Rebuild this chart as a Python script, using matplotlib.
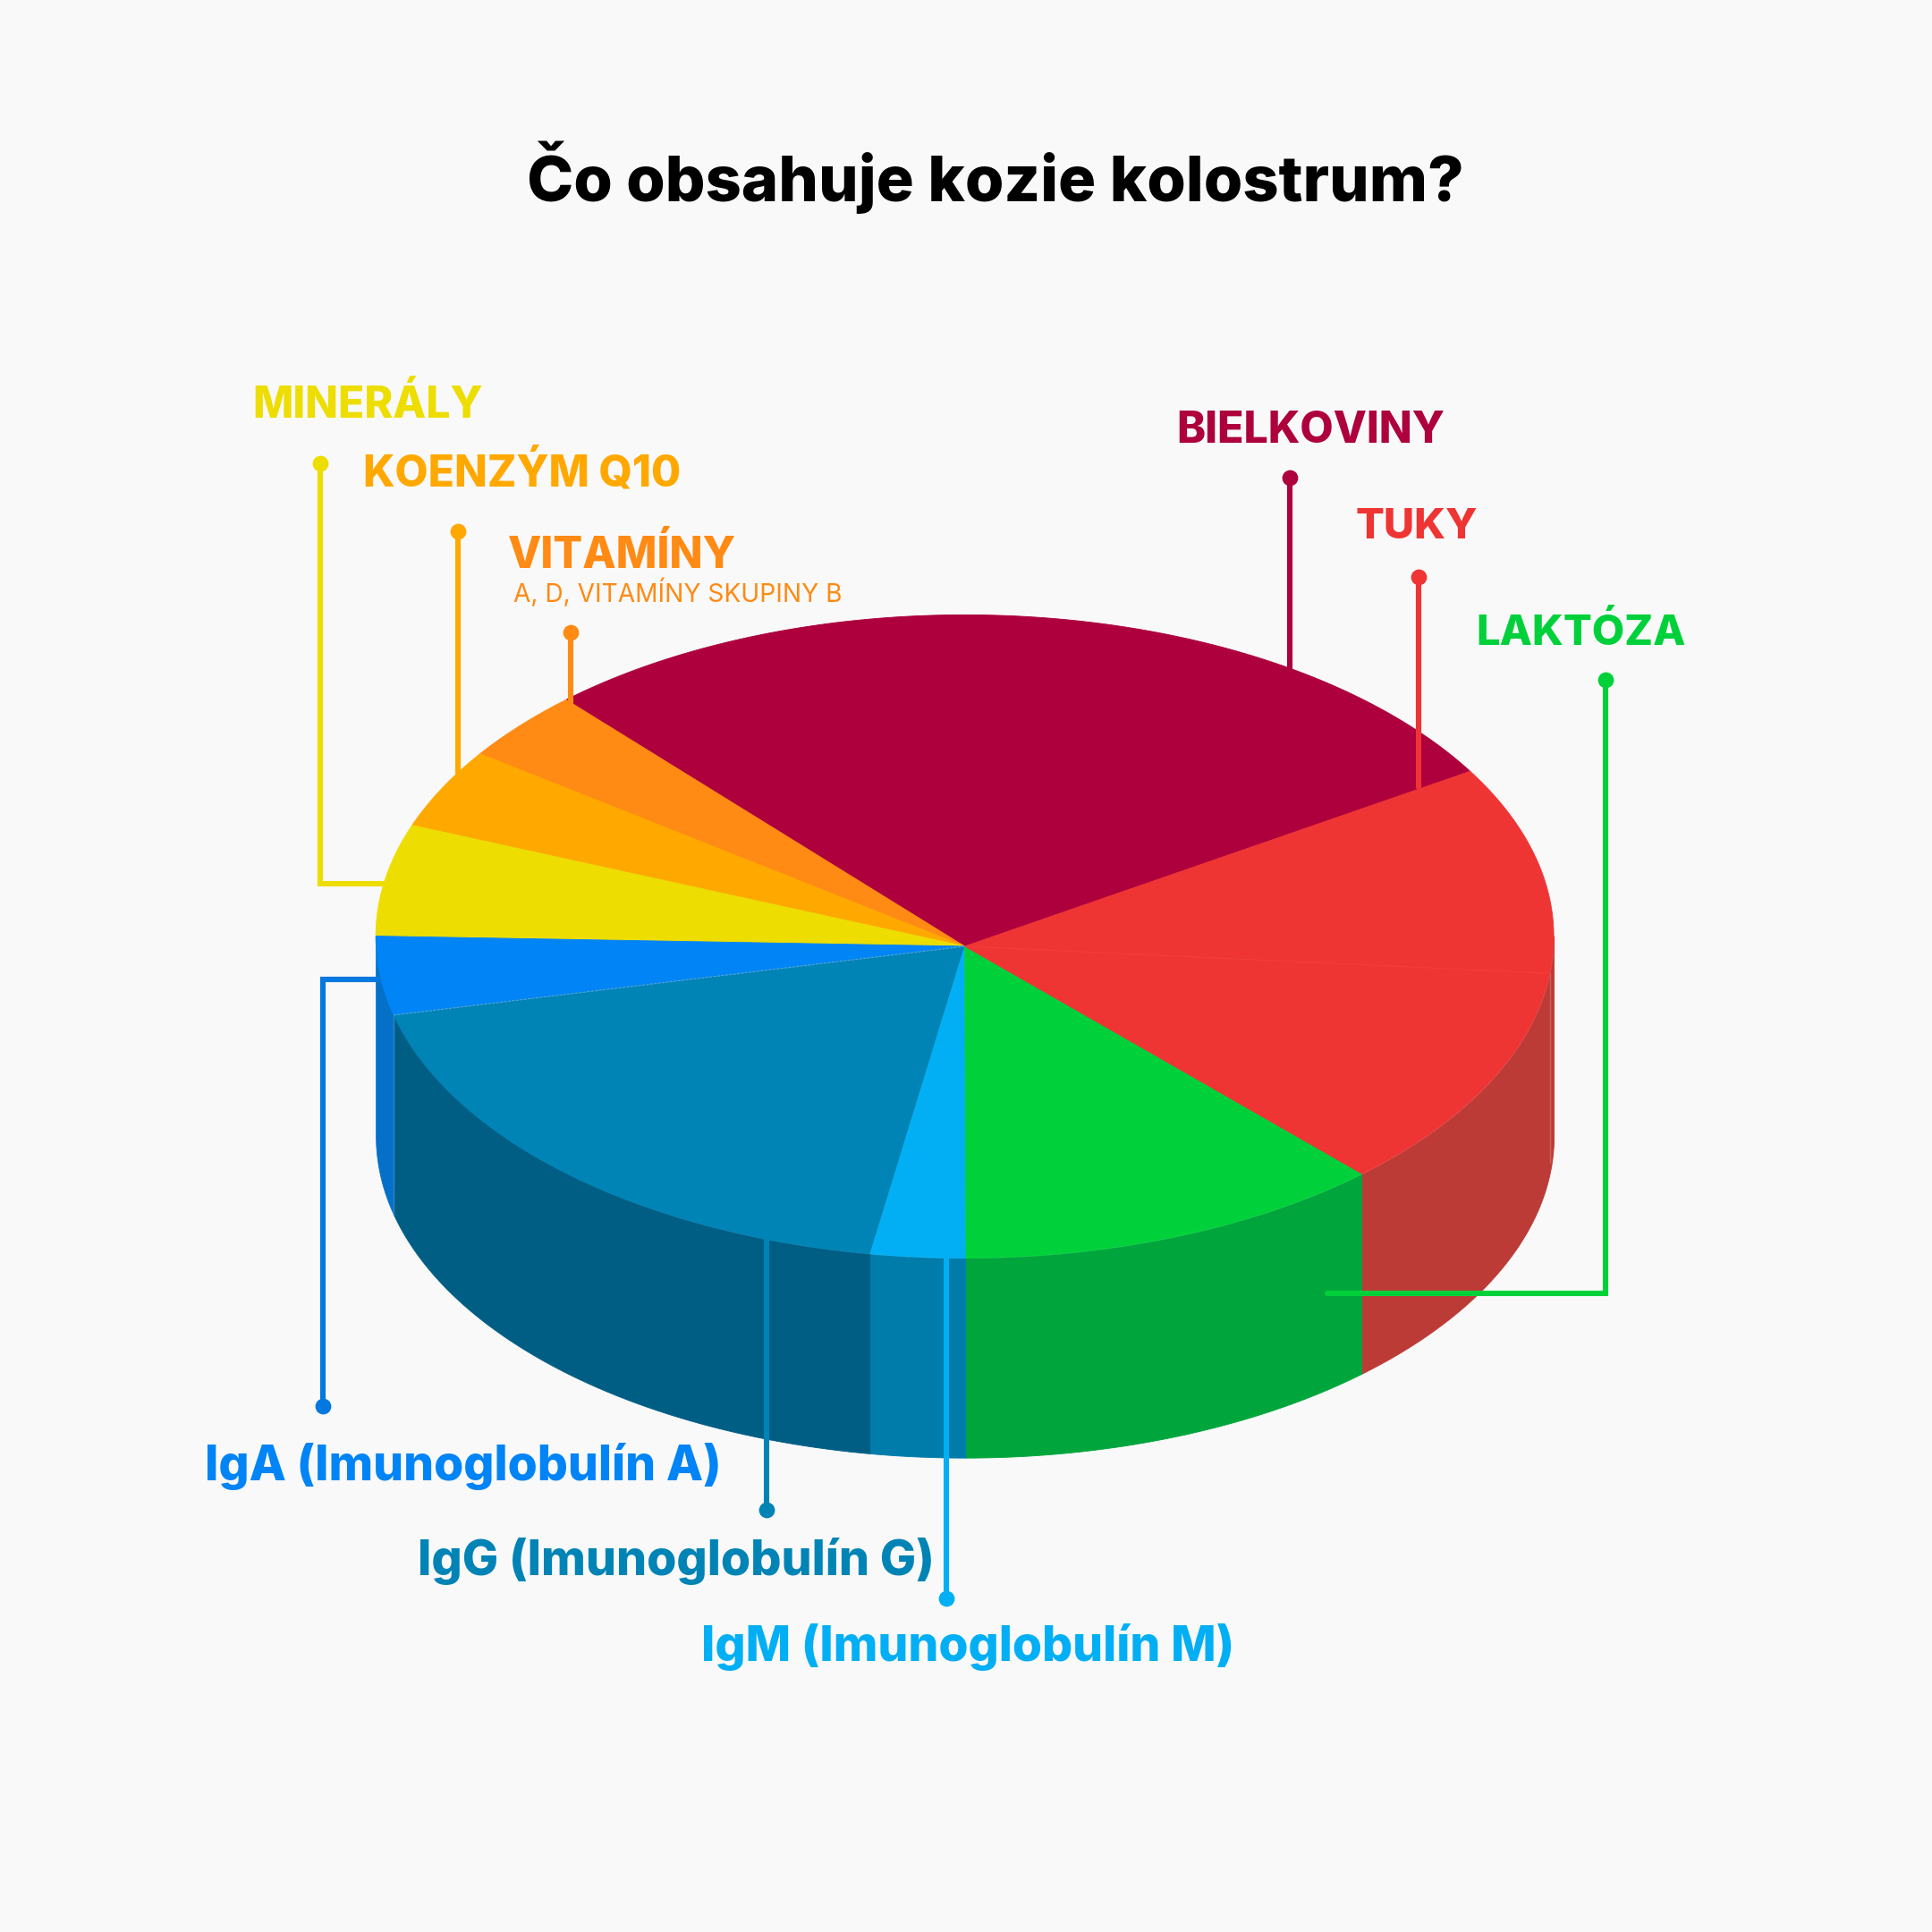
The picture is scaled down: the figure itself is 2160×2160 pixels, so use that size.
import matplotlib
matplotlib.use('Agg')
import matplotlib.pyplot as plt
import numpy as np

# shares of the pie (percent), counter clockwise from the tuky/bielkoviny edge
categories = ['BIELKOVINY', 'VITAMÍNY', 'KOENZÝM Q10', 'MINERÁLY', 'IgA', 'IgG', 'IgM', 'LAKTÓZA', 'TUKY']
values = [28.25, 3.55, 4.0, 5.6, 3.95, 18.5, 2.6, 11.75, 21.8]
top_colors = ['#AD003D', '#FF8A14', '#FFA800', '#EDDD00', '#0184F5', '#0083B5', '#03AFF4', '#00D13B', '#EF3434']
side_colors = ['#AD003D', '#FF8A14', '#FFA800', '#EDDD00', '#0470C8', '#005E85', '#007CAB', '#00A53C', '#BC3B36']
start_angle = 30.9

plt.rcParams['font.family'] = ['Inter', 'DejaVu Sans']
BG = '#F9F9F9'
S = 2160 / 1568  # positions below were measured on a 1568 px view

fig = plt.figure(figsize=(10.8, 10.8), dpi=200, facecolor=BG)
ax = fig.add_axes([0, 0, 1, 1])
ax.set_xlim(0, 2160)
ax.set_ylim(2160, 0)
ax.set_axis_off()

# disc geometry, the apex sits a bit below the ellipse centre in the picture
cx, cy = 783 * S, 760 * S
apex_y = 768 * S
rx, ry = 478 * S, 261 * S
depth = 162 * S

edges = start_angle + np.cumsum([0] + values) * 3.6


def rim(a0, a1, n=120):
    t = np.radians(np.linspace(a0, a1, n))
    return cx + rx * np.cos(t), cy - ry * np.sin(t)


for i in range(len(values)):
    # top face
    x, y = rim(edges[i], edges[i + 1])
    ax.fill(np.r_[cx, x], np.r_[apex_y, y], color=top_colors[i], lw=0.3, zorder=2)

    # side wall, only the front half of the disc shows
    a0 = max(edges[i], 180)
    a1 = min(edges[i + 1], 360)
    if a1 > a0:
        x, y = rim(a0, a1)
        ax.fill_between(x, y, y + depth, color=side_colors[i], lw=0.3, zorder=1)

# tuky is made of two pieces in the original, a faint seam stays visible
seam_angle = 353.4
sx, sy = rim(seam_angle, seam_angle, 1)
ax.plot([cx, sx[0]], [apex_y, sy[0]], color='#F13F3A', lw=0.4, zorder=2.5)
ax.plot([sx[0], sx[0]], [sy[0], sy[0] + depth * 0.95], color='#C8605A', lw=0.5, zorder=1.5)

# light seam between IgA and IgG
sx, sy = rim(edges[5], edges[5], 1)
ax.plot([cx, sx[0]], [apex_y, sy[0]], color='#4FA6E0', lw=0.4, ls=(0, (3, 1)), zorder=2.5)
ax.plot([sx[0], sx[0]], [sy[0], sy[0] + depth], color='#2E86CC', lw=0.5, zorder=1.5)


def leader(pts, color):
    xs = [p[0] * S for p in pts]
    ys = [p[1] * S for p in pts]
    ax.plot(xs, ys, color=color, lw=2.2, zorder=3, solid_capstyle='round', solid_joinstyle='miter')
    ax.plot(xs[0], ys[0], 'o', color=color, ms=6.4, zorder=3, mew=0)


leader([(1047, 388), (1047, 543)], '#AD003D')
leader([(1151, 468), (1151, 639)], '#EF3434')
leader([(1303, 552), (1303, 1050), (1077, 1050)], '#00D13B')
leader([(260, 376), (260, 717), (314, 717)], '#EDDD00')
leader([(372, 431), (372, 627)], '#FFA800')
leader([(463, 513), (463, 574)], '#FF8A14')
leader([(262, 1141), (262, 795), (306, 795)], '#0278E0')
leader([(622, 1225), (622, 1006)], '#0083B5')
leader([(768, 1297), (768, 1021)], '#03AFF4')


def label(x, y, s, color, size=17, weight=800, ha='left'):
    ax.text(x * S, y * S, s, color=color, fontsize=size, fontweight=weight, ha=ha, va='center', zorder=4)


label(808, 144, 'Čo obsahuje kozie kolostrum?', '#000000', size=25.3, ha='center')
label(205, 329, 'MINERÁLY', '#EDDD00', size=17.3)
label(295, 384, 'KOENZÝM Q10', '#FFA800', size=17.3)
label(412, 451, 'VITAMÍNY', '#FF8A14', size=17.5)
label(417, 481, 'A, D, VITAMÍNY SKUPINY B', '#FF8A14', size=10.1, weight='normal')
label(955, 350, 'BIELKOVINY', '#AD003D', size=17.4)
label(1100, 428, 'TUKY', '#EF3434', size=17)
label(1198, 514, 'LAKTÓZA', '#00D13B', size=17)
label(166, 1190, 'IgA (Imunoglobulín A)', '#0184F5', size=19.3)
label(339, 1267, 'IgG (Imunoglobulín G)', '#0083B5', size=19.4)
label(569, 1337, 'IgM (Imunoglobulín M)', '#03AFF4', size=19.3)

fig.savefig('out.png', dpi=200, facecolor=BG)
